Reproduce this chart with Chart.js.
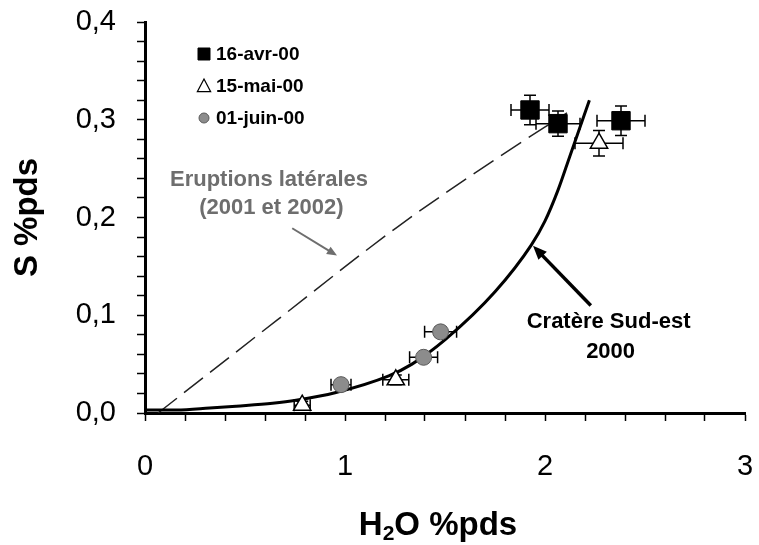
<!DOCTYPE html>
<html>
<head>
<meta charset="utf-8">
<script src="https://cdn.jsdelivr.net/npm/chart.js@4.4.0/dist/chart.umd.min.js"></script>
<style>
  html, body { margin: 0; padding: 0; background: #fff; }
  canvas { display: block; }
</style>
</head>
<body>
<canvas id="chart" width="759" height="545"></canvas>
<script>
const FONT = "'Liberation Sans', Arial, Helvetica, sans-serif";

// tick labels
const xTickLabels = ['0', '1', '2', '3'];
const yTickLabels = ['0,0', '0,1', '0,2', '0,3', '0,4'];

// 16-avr-00 (black squares)
const aprX = [1.925, 2.065, 2.38];
const aprY = [0.310, 0.296, 0.299];
const aprXErr = [0.095, 0.11, 0.12];
const aprYErr = [0.015, 0.013, 0.015];

// 15-mai-00 (open triangles)
const mayX = [0.786, 1.254, 2.27];
const mayY = [0.008, 0.034, 0.276];
const mayXErr = [0.04, 0.065, 0.12];
const mayYErr = [0.004, 0.005, 0.013];

// 01-juin-00 (grey circles)
const junX = [0.98, 1.393, 1.478];
const junY = [0.029, 0.057, 0.083];
const junXErr = [0.05, 0.07, 0.08];
const junYErr = [0.004, 0.004, 0.005];

// Cratère Sud-est 2000 (solid curve)
const craterX = [0, 0.158, 0.323, 0.456, 0.638, 0.755, 0.955, 1.219, 1.335, 1.501, 1.750, 1.932, 1.999, 2.065, 2.123, 2.164, 2.222];
const craterY = [0.003, 0.003, 0.005, 0.007, 0.010, 0.013, 0.021, 0.038, 0.050, 0.075, 0.124, 0.172, 0.196, 0.228, 0.262, 0.286, 0.320];

// Eruptions latérales 2001-2002 (dashed line)
const lateralX = [0.065, 0.66, 1.26, 1.77, 2.11];
const lateralY = [0.0, 0.095, 0.19, 0.262, 0.307];

const toPoints = (xs, ys) => xs.map((x, i) => ({ x, y: ys[i] }));

function drawMarker(ctx, style, x, y, r, fill, stroke, lw) {
    ctx.save();
    ctx.beginPath();
    if (style === 'rect') {
        ctx.rect(x - r, y - r, 2 * r, 2 * r);
    } else if (style === 'triangle') {
        ctx.moveTo(x, y - r);
        ctx.lineTo(x + r * 0.95, y + r * 0.8);
        ctx.lineTo(x - r * 0.95, y + r * 0.8);
        ctx.closePath();
    } else {
        ctx.arc(x, y, r, 0, Math.PI * 2);
    }
    ctx.fillStyle = fill;
    ctx.fill();
    ctx.lineWidth = lw;
    ctx.strokeStyle = stroke;
    ctx.stroke();
    ctx.restore();
}

function drawArrow(ctx, x1, y1, x2, y2, color, width, head) {
    const ang = Math.atan2(y2 - y1, x2 - x1);
    ctx.save();
    ctx.strokeStyle = color;
    ctx.fillStyle = color;
    ctx.lineWidth = width;
    ctx.beginPath();
    ctx.moveTo(x1, y1);
    ctx.lineTo(x2 - Math.cos(ang) * head * 0.7, y2 - Math.sin(ang) * head * 0.7);
    ctx.stroke();
    ctx.beginPath();
    ctx.moveTo(x2, y2);
    ctx.lineTo(x2 - head * Math.cos(ang - 0.4), y2 - head * Math.sin(ang - 0.4));
    ctx.lineTo(x2 - head * Math.cos(ang + 0.4), y2 - head * Math.sin(ang + 0.4));
    ctx.closePath();
    ctx.fill();
    ctx.restore();
}

const errorBars = {
    id: 'errorBars',
    beforeDatasetsDraw(chart) {
        const { ctx, scales: { x, y } } = chart;
        const cap = 6;
        ctx.save();
        ctx.strokeStyle = '#000';
        ctx.lineWidth = 1.5;
        chart.data.datasets.forEach((ds) => {
            if (!ds.xErr) return;
            ds.data.forEach((p, j) => {
                const px = x.getPixelForValue(p.x);
                const py = y.getPixelForValue(p.y);
                const xl = x.getPixelForValue(p.x - ds.xErr[j]);
                const xr = x.getPixelForValue(p.x + ds.xErr[j]);
                const yt = y.getPixelForValue(p.y + ds.yErr[j]);
                const yb = y.getPixelForValue(p.y - ds.yErr[j]);
                ctx.beginPath();
                ctx.moveTo(xl, py); ctx.lineTo(xr, py);
                ctx.moveTo(xl, py - cap); ctx.lineTo(xl, py + cap);
                ctx.moveTo(xr, py - cap); ctx.lineTo(xr, py + cap);
                ctx.moveTo(px, yt); ctx.lineTo(px, yb);
                ctx.moveTo(px - cap, yt); ctx.lineTo(px + cap, yt);
                ctx.moveTo(px - cap, yb); ctx.lineTo(px + cap, yb);
                ctx.stroke();
            });
        });
        ctx.restore();
    },
};

const overlay = {
    id: 'overlay',
    afterDraw(chart) {
        const { ctx, chartArea, scales: { x, y } } = chart;

        // legend
        let row = 0;
        chart.data.datasets.forEach((ds) => {
            if (!ds.legendStyle) return;
            const lx = chartArea.left + 59;
            const ly = chartArea.top + 32 + row * 32;
            const s = ds.legendStyle;
            drawMarker(ctx, s.style, lx, ly, s.r, s.fill, s.stroke, s.lw);
            ctx.save();
            ctx.fillStyle = '#000';
            ctx.font = `bold 19px ${FONT}`;
            ctx.textAlign = 'left';
            ctx.textBaseline = 'middle';
            ctx.fillText(ds.label, lx + 12, ly + 1);
            ctx.restore();
            row += 1;
        });

        // x axis title with subscript
        ctx.save();
        ctx.fillStyle = '#000';
        ctx.textBaseline = 'alphabetic';
        ctx.textAlign = 'left';
        const big = `bold 33px ${FONT}`;
        const small = `bold 21px ${FONT}`;
        ctx.font = big;
        const wH = ctx.measureText('H').width;
        const wRest = ctx.measureText('O %pds').width;
        ctx.font = small;
        const w2 = ctx.measureText('2').width;
        const total = wH + w2 + wRest;
        const tx = (x.left + x.right) / 2 - 7 - total / 2;
        const ty = 535;
        ctx.font = big;
        ctx.fillText('H', tx, ty);
        ctx.font = small;
        ctx.fillText('2', tx + wH, ty + 5);
        ctx.font = big;
        ctx.fillText('O %pds', tx + wH + w2, ty);
        ctx.restore();

        // annotations
        ctx.save();
        ctx.textAlign = 'center';
        ctx.textBaseline = 'middle';
        ctx.font = `bold 22px ${FONT}`;
        ctx.fillStyle = '#6e6e6e';
        ctx.fillText('Eruptions latérales', x.getPixelForValue(0.62), y.getPixelForValue(0.238));
        ctx.fillText('(2001 et 2002)', x.getPixelForValue(0.632), y.getPixelForValue(0.210));
        ctx.fillStyle = '#000';
        ctx.fillText('Cratère Sud-est', x.getPixelForValue(2.318), y.getPixelForValue(0.093));
        ctx.fillText('2000', x.getPixelForValue(2.328), y.getPixelForValue(0.062));
        ctx.restore();

        drawArrow(ctx, x.getPixelForValue(0.736), y.getPixelForValue(0.189),
            x.getPixelForValue(0.960), y.getPixelForValue(0.161), '#6e6e6e', 2, 11);
        drawArrow(ctx, x.getPixelForValue(2.229), y.getPixelForValue(0.110),
            x.getPixelForValue(1.940), y.getPixelForValue(0.171), '#000', 3.5, 15);
    },
};

new Chart(document.getElementById('chart'), {
    type: 'scatter',
    data: {
        datasets: [
            {
                label: '16-avr-00',
                data: toPoints(aprX, aprY),
                xErr: aprXErr,
                yErr: aprYErr,
                pointStyle: 'rect',
                pointRadius: 13,
                backgroundColor: '#000',
                borderColor: '#000',
                borderWidth: 1,
                legendStyle: { style: 'rect', r: 6, fill: '#000', stroke: '#000', lw: 1 },
            },
            {
                label: '15-mai-00',
                data: toPoints(mayX, mayY),
                xErr: mayXErr,
                yErr: mayYErr,
                pointStyle: 'triangle',
                pointRadius: 10,
                backgroundColor: '#fff',
                borderColor: '#000',
                borderWidth: 1.5,
                legendStyle: { style: 'triangle', r: 7, fill: '#fff', stroke: '#000', lw: 1.2 },
            },
            {
                label: '01-juin-00',
                data: toPoints(junX, junY),
                xErr: junXErr,
                yErr: junYErr,
                pointStyle: 'circle',
                pointRadius: 8,
                backgroundColor: '#8c8c8c',
                borderColor: '#5a5a5a',
                borderWidth: 1,
                legendStyle: { style: 'circle', r: 5, fill: '#8c8c8c', stroke: '#5a5a5a', lw: 1 },
            },
            {
                label: 'Cratère Sud-est 2000',
                data: toPoints(craterX, craterY),
                showLine: true,
                pointRadius: 0,
                borderColor: '#000',
                borderWidth: 3,
                cubicInterpolationMode: 'monotone',
            },
            {
                label: 'Eruptions latérales (2001 et 2002)',
                data: toPoints(lateralX, lateralY),
                showLine: true,
                pointRadius: 0,
                borderColor: '#222',
                borderWidth: 1.5,
                borderDash: [24, 9],
                cubicInterpolationMode: 'monotone',
            },
        ],
    },
    options: {
        responsive: false,
        animation: false,
        devicePixelRatio: 1,
        layout: { padding: { top: 22, right: 11, bottom: 0, left: 0 } },
        plugins: {
            legend: { display: false },
            tooltip: { enabled: false },
        },
        scales: {
            x: {
                type: 'linear',
                min: 0,
                max: 3,
                afterFit: (scale) => {
                    scale.height = 132;
                    scale.paddingLeft = 0;
                    scale.paddingRight = 0;
                },
                ticks: {
                    stepSize: 0.2,
                    autoSkip: false,
                    maxRotation: 0,
                    padding: 29,
                    color: '#000',
                    font: { family: FONT, size: 29 },
                    callback: (value, index) => (index % 5 === 0 ? xTickLabels[index / 5] : ''),
                },
                grid: {
                    drawOnChartArea: false,
                    drawTicks: true,
                    tickLength: 8,
                    tickWidth: 1.5,
                    tickColor: '#000',
                },
                border: { display: true, color: '#000', width: 3 },
                title: { display: false },
            },
            y: {
                type: 'linear',
                min: 0,
                max: 0.4,
                afterFit: (scale) => {
                    scale.width = 145;
                    scale.paddingTop = 0;
                    scale.paddingBottom = 0;
                },
                ticks: {
                    stepSize: 0.02,
                    autoSkip: false,
                    padding: 21,
                    color: '#000',
                    font: { family: FONT, size: 29 },
                    callback: (value, index) => (index % 5 === 0 ? yTickLabels[index / 5] : ''),
                },
                grid: {
                    drawOnChartArea: false,
                    drawTicks: true,
                    tickLength: 8,
                    tickWidth: 1.5,
                    tickColor: '#000',
                },
                border: { display: true, color: '#000', width: 3 },
                title: {
                    display: true,
                    text: 'S %pds',
                    color: '#000',
                    font: { family: FONT, size: 33, weight: 'bold' },
                    padding: { top: 8, bottom: 0 },
                },
            },
        },
    },
    plugins: [errorBars, overlay],
});
</script>
</body>
</html>
